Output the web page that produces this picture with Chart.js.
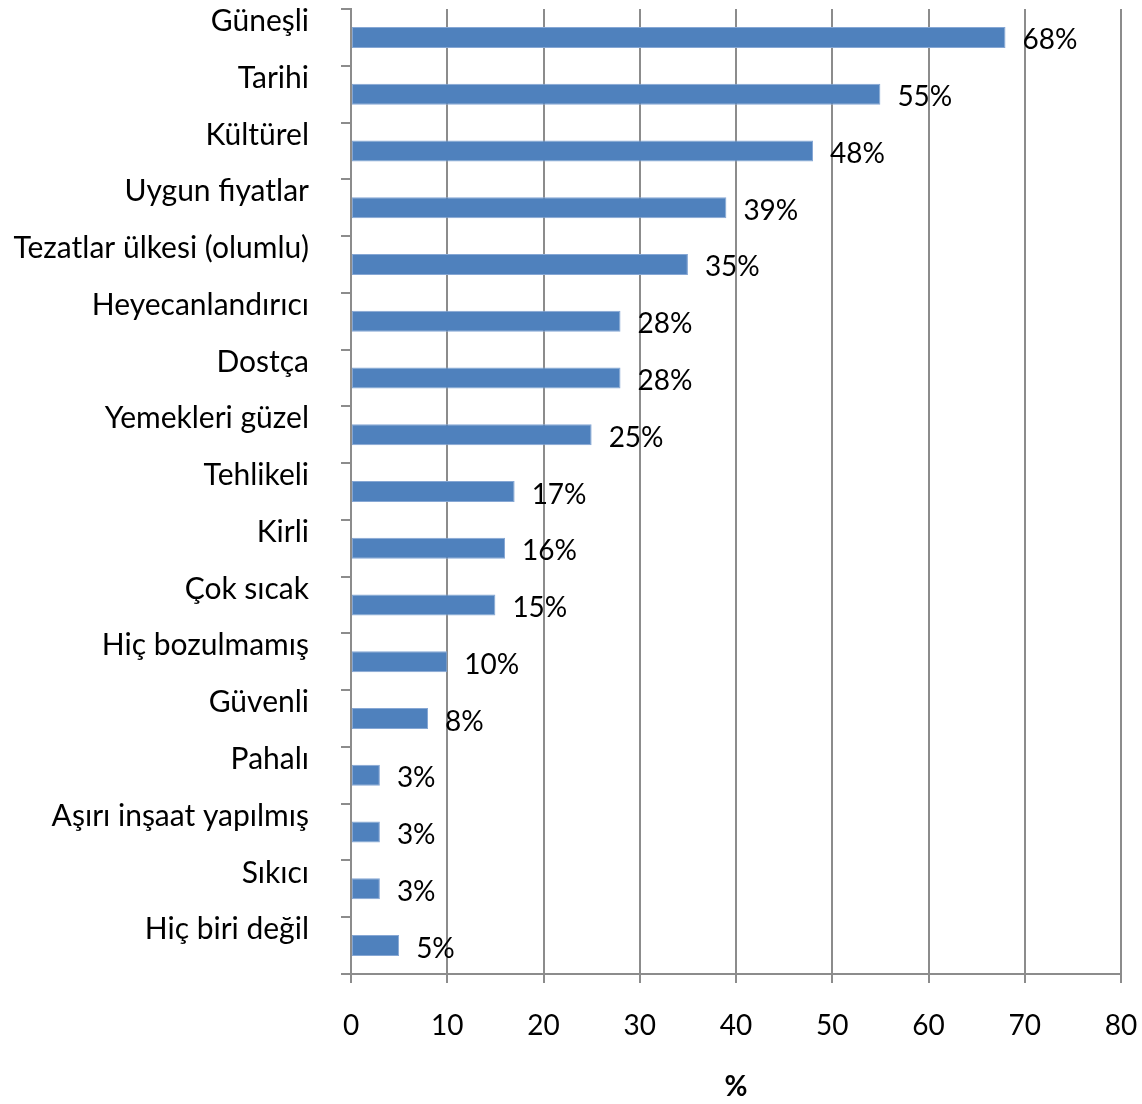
<!DOCTYPE html>
<html>
<head>
<meta charset="utf-8">
<script src="https://cdn.jsdelivr.net/npm/chart.js"></script>
<style>
  html, body { margin: 0; padding: 0; background: #ffffff; }
  #wrap { width: 1142px; height: 1104px; }
</style>
</head>
<body>
<div id="wrap"><canvas id="imageChart"></canvas></div>
<script>
// Türkiye algısı - yanıt oranları (%)
const kategoriler = [
    'Güneşli', 'Tarihi', 'Kültürel', 'Uygun fiyatlar', 'Tezatlar ülkesi (olumlu)',
    'Heyecanlandırıcı', 'Dostça', 'Yemekleri güzel', 'Tehlikeli', 'Kirli',
    'Çok sıcak', 'Hiç bozulmamış', 'Güvenli', 'Pahalı', 'Aşırı inşaat yapılmış',
    'Sıkıcı', 'Hiç biri değil'
];
const yuzdeler = [68, 55, 48, 39, 35, 28, 28, 25, 17, 16, 15, 10, 8, 3, 3, 3, 5];
const eksenEtiketleri = [0, 10, 20, 30, 40, 50, 60, 70, 80];

const FONT = 'Lato, Carlito, "Open Sans", sans-serif';
const GRI = '#8c8c8c';

// Çubuk sonlarına yüzde etiketleri
const degerEtiketleri = {
    id: 'degerEtiketleri',
    afterDatasetsDraw(chart) {
        const ctx = chart.ctx;
        const meta = chart.getDatasetMeta(0);
        ctx.save();
        ctx.font = '28px ' + FONT;
        ctx.fillStyle = '#000000';
        ctx.textAlign = 'left';
        ctx.textBaseline = 'middle';
        meta.data.forEach(function(bar, i) {
            ctx.fillText(yuzdeler[i] + '%', bar.x + 17, bar.y + 3);
        });
        ctx.restore();
    }
};

const ctx = document.getElementById('imageChart').getContext('2d');
new Chart(ctx, {
    type: 'bar',
    data: {
        labels: kategoriler,
        datasets: [{
            data: yuzdeler,
            backgroundColor: '#4f81bd',
            borderColor: '#86a7d4',
            borderWidth: 1,
            borderSkipped: false,
            barPercentage: 0.37,
            categoryPercentage: 1
        }]
    },
    options: {
        indexAxis: 'y',
        responsive: true,
        maintainAspectRatio: false,
        animation: false,
        layout: { padding: { top: 9, right: 21, left: 0, bottom: 0 } },
        plugins: {
            legend: { display: false },
            tooltip: { enabled: false }
        },
        scales: {
            x: {
                min: 0,
                max: 80,
                afterBuildTicks(scale) {
                    scale.ticks = eksenEtiketleri.map(v => ({ value: v }));
                },
                grid: {
                    color: GRI,
                    lineWidth: 2,
                    tickLength: 9,
                    drawTicks: true
                },
                border: { color: GRI, width: 2 },
                ticks: {
                    font: { family: FONT, size: 28 },
                    color: '#000000',
                    padding: 26,
                    maxRotation: 0
                },
                title: {
                    display: true,
                    text: '%',
                    font: { family: FONT, size: 28, weight: 'bold' },
                    color: '#000000',
                    padding: { top: 20, bottom: 0 }
                },
                afterFit(scale) {
                    scale.height = 130;
                    scale.paddingLeft = 0;
                    scale.paddingRight = 0;
                }
            },
            y: {
                grid: {
                    offset: true,
                    drawOnChartArea: false,
                    color: GRI,
                    lineWidth: 2,
                    tickLength: 10
                },
                border: { color: GRI, width: 2 },
                ticks: {
                    font: { family: FONT, size: 30 },
                    color: '#000000',
                    padding: 32,
                    labelOffset: -16,
                    autoSkip: false
                },
                afterFit(scale) {
                    scale.width = 351;
                    scale.paddingTop = 0;
                    scale.paddingBottom = 0;
                }
            }
        }
    },
    plugins: [degerEtiketleri]
});
</script>
</body>
</html>
